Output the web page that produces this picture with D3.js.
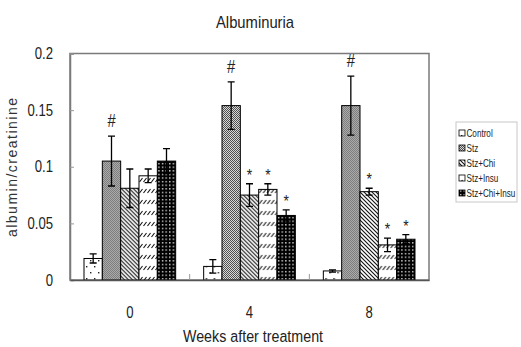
<!DOCTYPE html>
<html>
<head>
<meta charset="utf-8">
<script src="https://cdn.jsdelivr.net/npm/d3@7"></script>
<style>
  body { margin: 0; background: #fff; }
  svg { display: block; }
</style>
</head>
<body>
<script>
// weeks after treatment (x categories)
var weeks = ['0', '4', '8'];
var groups = ['Control', 'Stz', 'Stz+Chi', 'Stz+Insu', 'Stz+Chi+Insu'];

// albumin/creatinine means, one array per group (week 0, 4, 8)
var control = [0.019, 0.012, 0.008];
var stz = [0.105, 0.154, 0.154];
var stzChi = [0.081, 0.075, 0.078];
var stzInsu = [0.092, 0.080, 0.031];
var stzChiInsu = [0.105, 0.057, 0.036];

// error bar half heights
var controlErr = [0.004, 0.006, 0.001];
var stzErr = [0.022, 0.021, 0.026];
var stzChiErr = [0.017, 0.010, 0.003];
var stzInsuErr = [0.006, 0.005, 0.006];
var stzChiInsuErr = [0.011, 0.005, 0.004];

// significance marks above the bars
var controlMark = ['', '', ''];
var stzMark = ['#', '#', '#'];
var stzChiMark = ['', '*', '*'];
var stzInsuMark = ['', '*', '*'];
var stzChiInsuMark = ['', '*', '*'];

var yTicks = [0, 0.05, 0.1, 0.15, 0.2];

const WIDTH = 521;
const HEIGHT = 347;
const LEFT = 70, RIGHT = 429, TOP = 53.5, BOTTOM = 280;
const FONT = "'Liberation Sans',Arial,sans-serif";
const SQ = 0.82; // squeeze to look like a narrow face
const TEXT = '#222';

var means = [control, stz, stzChi, stzInsu, stzChiInsu];
var errs = [controlErr, stzErr, stzChiErr, stzInsuErr, stzChiInsuErr];
var marks = [controlMark, stzMark, stzChiMark, stzInsuMark, stzChiInsuMark];
var patIds = ['p-control', 'p-stz', 'p-chi', 'p-insu', 'p-chiinsu'];

var rows = [];
groups.forEach((g, i) => weeks.forEach((w, j) => {
    rows.push({group: g, gi: i, week: w, v: means[i][j], e: errs[i][j], m: marks[i][j]});
}));

var svg = d3.select('body').append('svg')
    .attr('width', WIDTH)
    .attr('height', HEIGHT);

var label = (parent, x, y, s, size, txt) => parent.append('text')
    .attr('transform', `translate(${x},${y}) scale(${s},1)`)
    .attr('text-anchor', 'middle')
    .style('font-family', FONT).style('font-size', size + 'px')
    .attr('fill', TEXT)
    .text(txt);

// fill patterns
var defs = svg.append('defs');
var pat = (id, w, h, bg) => {
    let p = defs.append('pattern').attr('id', id)
        .attr('patternUnits', 'userSpaceOnUse')
        .attr('width', w).attr('height', h);
    p.append('rect').attr('width', w).attr('height', h).attr('fill', bg);
    return p;
};

let pc = pat('p-control', 8, 12, '#fff');
pc.append('rect').attr('x', 2).attr('y', 2).attr('width', 1.4).attr('height', 1.4).attr('fill', '#222');
pc.append('rect').attr('x', 6).attr('y', 8).attr('width', 1.4).attr('height', 1.4).attr('fill', '#222');

let ps = pat('p-stz', 2, 2, '#d8d8d8');
ps.append('rect').attr('width', 1).attr('height', 1).attr('fill', '#505050');
ps.append('rect').attr('x', 1).attr('y', 1).attr('width', 1).attr('height', 1).attr('fill', '#505050');

let pch = pat('p-chi', 4, 4, '#fff');
pch.append('path').attr('d', 'M-1,-1L5,5M-1,3L1,5M3,-1L5,1')
    .attr('stroke', '#111').attr('stroke-width', 1.1);

let pin = pat('p-insu', 4, 11, '#fff');
pin.append('path').attr('d', 'M0.5,6L3.5,2')
    .attr('stroke', '#111').attr('stroke-width', 1.1);

let pci = pat('p-chiinsu', 3.6, 3.6, '#000');
pci.append('rect').attr('x', 1).attr('y', 1).attr('width', 1.3).attr('height', 1.3).attr('fill', '#fff');

// scales
var x0 = d3.scaleBand().domain(weeks).range([LEFT, RIGHT]);
var gap = x0.bandwidth() * 0.117;
var x1 = d3.scaleBand().domain(groups).range([gap, x0.bandwidth() - gap]);
var y = d3.scaleLinear().domain([0, 0.2]).range([BOTTOM, TOP]);

// title
label(svg, 255, 28, 0.87, 17, 'Albuminuria');

// plot frame
svg.append('rect')
    .attr('x', LEFT).attr('y', TOP)
    .attr('width', RIGHT - LEFT).attr('height', BOTTOM - TOP)
    .attr('fill', 'none').attr('stroke', '#7a7a7a').attr('stroke-width', 1.5);

// y axis
let yAxis = d3.axisLeft(y).tickValues(yTicks).tickSize(-4).tickPadding(17 / SQ)
    .tickFormat(d => String(d));
let ya = svg.append('g').attr('transform', `translate(${LEFT},0)`).call(yAxis);
ya.select('.domain').attr('stroke', '#7a7a7a').attr('stroke-width', 1.5);
ya.selectAll('.tick line').attr('stroke', '#999');
ya.selectAll('.tick text').attr('transform', `scale(${SQ},1)`)
    .style('font-family', FONT).style('font-size', '16px').attr('fill', TEXT);

svg.append('text')
    .attr('transform', `translate(17,${(TOP + BOTTOM) / 2}) rotate(-90)`)
    .attr('text-anchor', 'middle')
    .style('font-family', FONT).style('font-size', '14px')
    .style('letter-spacing', '1.5px')
    .attr('fill', '#333')
    .text('albumin/creatinine');

// bars
let g = svg.append('g');
let bar = g.selectAll('g.bar').data(rows).enter().append('g')
    .attr('transform', d => `translate(${x0(d.week) + x1(d.group)},0)`);

bar.append('rect')
    .attr('x', 0).attr('y', d => y(d.v))
    .attr('width', x1.bandwidth()).attr('height', d => y(0) - y(d.v))
    .attr('fill', d => `url(#${patIds[d.gi]})`)
    .attr('stroke', '#000').attr('stroke-width', 1);

let cx = x1.bandwidth() / 2, cap = 3.5;
bar.append('path')
    .attr('d', d => {
        let t = y(d.v + d.e), b = y(d.v - d.e);
        return `M${cx},${t}V${b}M${cx - cap},${t}H${cx + cap}M${cx - cap},${b}H${cx + cap}`;
    })
    .attr('stroke', '#000').attr('stroke-width', 1.3).attr('fill', 'none');

bar.filter(d => d.m).append('text')
    .attr('transform', d => `translate(${cx},${y(d.v + d.e) - (d.m === '#' ? 9 : 3)}) scale(${SQ},1)`)
    .attr('text-anchor', 'middle')
    .style('font-family', FONT)
    .style('font-size', d => d.m === '#' ? '18px' : '17px')
    .attr('fill', TEXT)
    .text(d => d.m);

// x axis
let xAxis = d3.axisBottom(x0).tickSize(0).tickPadding(27);
let xa = svg.append('g').attr('transform', `translate(0,${BOTTOM})`).call(xAxis);
xa.select('.domain').attr('stroke', '#555').attr('stroke-width', 1.5);
xa.selectAll('.tick text').attr('transform', `scale(${SQ},1)`)
    .style('font-family', FONT).style('font-size', '16px').attr('fill', TEXT);

svg.append('g').selectAll('line')
    .data(weeks.slice(1)).enter().append('line')
    .attr('x1', d => x0(d)).attr('x2', d => x0(d))
    .attr('y1', BOTTOM).attr('y2', BOTTOM - 6)
    .attr('stroke', '#999');

label(svg, 253, 342, 0.84, 17, 'Weeks after treatment');

// legend
let lg = svg.append('g');
lg.append('rect')
    .attr('x', 456).attr('y', 122).attr('width', 61).attr('height', 80)
    .attr('fill', '#fff').attr('stroke', '#c8c8c8');

let item = lg.selectAll('g.item').data(groups).enter().append('g')
    .attr('transform', (d, i) => `translate(459,${133 + i * 15})`);

item.append('rect')
    .attr('x', 0).attr('y', -3).attr('width', 6).attr('height', 6)
    .attr('fill', (d, i) => `url(#${patIds[i]})`)
    .attr('stroke', '#000').attr('stroke-width', 0.8);

item.append('text')
    .attr('transform', `translate(7.5,0) scale(0.74,1)`)
    .attr('dy', '0.35em')
    .style('font-family', FONT).style('font-size', '11px')
    .attr('fill', TEXT)
    .text(d => d);
</script>
</body>
</html>
